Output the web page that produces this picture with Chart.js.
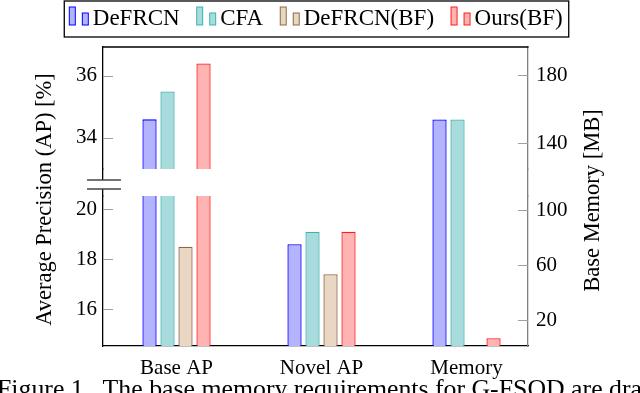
<!DOCTYPE html>
<html><head><meta charset="utf-8">
<script src="https://cdn.jsdelivr.net/npm/chart.js@4/dist/chart.umd.min.js"></script>
<style>
html,body{margin:0;padding:0;background:#fff;width:640px;height:393px;overflow:hidden;position:relative}
#c{position:absolute;left:0;top:0}
#cap{position:absolute;left:-3px;top:376px;font:25.8px/26px "Liberation Serif",serif;white-space:nowrap;color:#000}
</style></head><body>
<canvas id="c" width="640" height="393"></canvas>
<div id="cap">Figure 1.&nbsp; The base memory requirements for G-FSOD are dra</div>
<script>
// ---- data ----
const categories = ['Base AP', 'Novel AP', 'Memory'];
const seriesNames = ['DeFRCN', 'CFA', 'DeFRCN(BF)', 'Ours(BF)'];
const baseAP   = [34.6, 35.5, 18.5, 36.4];   // AP [%]
const novelAP  = [18.6, 19.1, 17.4, 19.1];   // AP [%]
const memoryMB = [154, 154, null, 6.7];      // Base memory [MB]
const apTicksUpper  = [34, 36];
const apTicksLower  = [16, 18, 20];
const memTicksUpper = [140, 180];
const memTicksLower = [20, 60, 100];
const leftTitle  = 'Average Precision (AP) [%]';
const rightTitle = 'Base Memory [MB]';

// ---- styles ----
const fills   = ['#b3b3ff', '#a8dcdc', '#ead7c3', '#ffb3b3'];
const borders = ['#0000ff', '#40b0b0', '#8b6948', '#ff1a1a'];
const FONT = 'Liberation Serif';
Chart.defaults.font.family = FONT;
Chart.defaults.color = '#000';

function barSet(s, axis, data) {
  return {
    label: seriesNames[s], data, yAxisID: axis, xAxisID: 'x', stack: seriesNames[s],
    backgroundColor: fills[s], borderColor: borders[s],
    borderWidth: {top: 1.3, left: 1.3, right: 1.3, bottom: 0}, borderSkipped: false, inflateAmount: 0,
    clip: 0, categoryPercentage: 0.4966, barPercentage: 0.79
  };
}
const datasets = [];
['yTop', 'yBot'].forEach(axis => seriesNames.forEach((n, s) => {
  datasets.push(barSet(s, axis, [{x: 0, y: baseAP[s]}, {x: 1, y: novelAP[s]}]));
}));
['mTop', 'mGap', 'mBot'].forEach(axis => seriesNames.forEach((n, s) => {
  if (memoryMB[s] == null) return;
  datasets.push(barSet(s, axis, [{x: 2, y: memoryMB[s]}]));
}));

function vScale(pos, stack, weight, stackWeight, min, max, ticks, color, width) {
  const o = {
    type: 'linear', axis: 'y', position: pos, stack, weight, stackWeight, min, max, bounds: 'data',
    afterFit: sc => { sc.width = width; },
    grid: {display: false, drawTicks: false},
    border: {display: true, color, width: 1.3},
    ticks: {display: !!ticks, padding: pos === 'left' ? 6 : 8, color: '#000',
            font: {family: FONT, size: 21}, callback: v => String(v)}
  };
  if (ticks) o.afterBuildTicks = sc => { sc.ticks = ticks.map(v => ({value: v})); };
  return o;
}

function makeIcon(s) {
  const cv = document.createElement('canvas');
  cv.width = 39; cv.height = 26;
  const g = cv.getContext('2d');
  g.fillStyle = fills[s]; g.strokeStyle = borders[s]; g.lineWidth = 1;
  [[18.5, 1.5, 6, 18], [31.5, 7.5, 6, 12]].forEach(r => { g.fillRect(...r); g.strokeRect(...r); });
  return cv;
}
const icons = seriesNames.map((n, s) => makeIcon(s));

const deco = {
  id: 'deco',
  beforeLayout(chart) {
    const lg = chart.legend;
    if (lg && !lg.__p) { const f = lg.fit; lg.fit = function () { f.call(this); this.height = 47; }; lg.__p = true; }
  },
  afterLayout(chart) {
    const lg = chart.legend;
    if (lg) { lg.left -= 9; lg.right -= 9; }
  },
  afterDraw(chart) {
    const {ctx, chartArea: ca, scales} = chart;
    ctx.save();
    // top frame line
    ctx.strokeStyle = '#000'; ctx.lineWidth = 1.3;
    ctx.beginPath(); ctx.moveTo(ca.left - 0.6, ca.top); ctx.lineTo(ca.right + 0.6, ca.top); ctx.stroke();
    // inward ticks
    ctx.strokeStyle = '#a0a0a0'; ctx.lineWidth = 1;
    ['yTop', 'yBot'].forEach(id => { const sc = scales[id]; sc.ticks.forEach(t => {
      const y = Math.round(sc.getPixelForValue(t.value)) + 0.5;
      ctx.beginPath(); ctx.moveTo(sc.right, y); ctx.lineTo(sc.right + 10, y); ctx.stroke(); }); });
    ['mTop', 'mBot'].forEach(id => { const sc = scales[id]; sc.ticks.forEach(t => {
      const y = Math.round(sc.getPixelForValue(t.value)) + 0.5;
      ctx.beginPath(); ctx.moveTo(sc.left - 10, y); ctx.lineTo(sc.left, y); ctx.stroke(); }); });
    // axis break marks
    const gp = scales.yGap; const cy = (gp.top + gp.bottom) / 2 + 2;
    ctx.fillStyle = '#fff'; ctx.fillRect(ca.left - 2, cy - 4.5, 4, 9);
    ctx.strokeStyle = '#444'; ctx.lineWidth = 1.4;
    [cy - 4.5, cy + 4.5].forEach(y => { ctx.beginPath(); ctx.moveTo(ca.left - 16, y); ctx.lineTo(ca.left + 18, y); ctx.stroke(); });
    // axis titles
    ctx.fillStyle = '#000'; ctx.textAlign = 'center'; ctx.textBaseline = 'middle';
    const mid = (ca.top + ca.bottom) / 2;
    ctx.font = '22.5px "' + FONT + '"';
    ctx.save(); ctx.translate(ca.left - 58, mid + 3); ctx.rotate(-Math.PI / 2); ctx.fillText(leftTitle, 0, 0); ctx.restore();
    ctx.font = '22.5px "' + FONT + '"';
    ctx.save(); ctx.translate(ca.right + 65, mid + 4); ctx.rotate(-Math.PI / 2); ctx.fillText(rightTitle, 0, 0); ctx.restore();
    // legend frame
    const lg = chart.legend; const hb = lg.legendHitBoxes;
    if (hb && hb.length) {
      const l = hb[0].left + 5, r = hb[hb.length - 1].left + hb[hb.length - 1].width + 6;
      ctx.strokeStyle = '#000'; ctx.lineWidth = 1.3;
      ctx.strokeRect(l, lg.top + 1, r - l, 36);
    }
    ctx.restore();
  }
};

new Chart(document.getElementById('c'), {
  type: 'bar',
  data: {datasets},
  options: {
    responsive: false, animation: false, devicePixelRatio: 1, events: [],
    layout: {padding: 0},
    scales: {
      x: {
        type: 'linear', position: 'bottom', min: -0.507, max: 2.424, bounds: 'data', offset: false,
        afterBuildTicks: sc => { sc.ticks = categories.map((c, i) => ({value: i})); },
        afterFit: sc => { sc.height = 47; },
        grid: {display: false, drawTicks: false},
        border: {display: true, color: '#000', width: 1.3},
        ticks: {padding: 10, color: '#000', font: {family: FONT, size: 21}, autoSkip: false, maxRotation: 0,
                callback: v => categories[v]}
      },
      yTop: vScale('left', 'L', 3, 122, 33.0, 36.93, apTicksUpper, '#000', 103),
      yGap: vScale('left', 'L', 2, 27, 0, 1, null, '#000', 103),
      yBot: vScale('left', 'L', 1, 150, 14.53, 20.53, apTicksLower, '#000', 103),
      mTop: vScale('right', 'R', 1, 122, 125, 196.4, memTicksUpper, '#808080', 112),
      mGap: vScale('right', 'R', 2, 27, 110.2, 125, null, '#808080', 112),
      mBot: vScale('right', 'R', 3, 150, 1.1, 110.2, memTicksLower, '#808080', 112)
    },
    plugins: {
      tooltip: {enabled: false},
      legend: {
        display: true, position: 'top',
        labels: {
          usePointStyle: true, pointStyleWidth: 22, padding: 7, color: '#000',
          font: {family: FONT, size: 23},
          generateLabels: () => seriesNames.map((n, s) => ({
            text: n, pointStyle: icons[s], fillStyle: fills[s], strokeStyle: borders[s],
            lineWidth: 0, hidden: false, datasetIndex: s, fontColor: '#000'
          }))
        }
      }
    }
  },
  plugins: [deco]
});
</script>
</body></html>
